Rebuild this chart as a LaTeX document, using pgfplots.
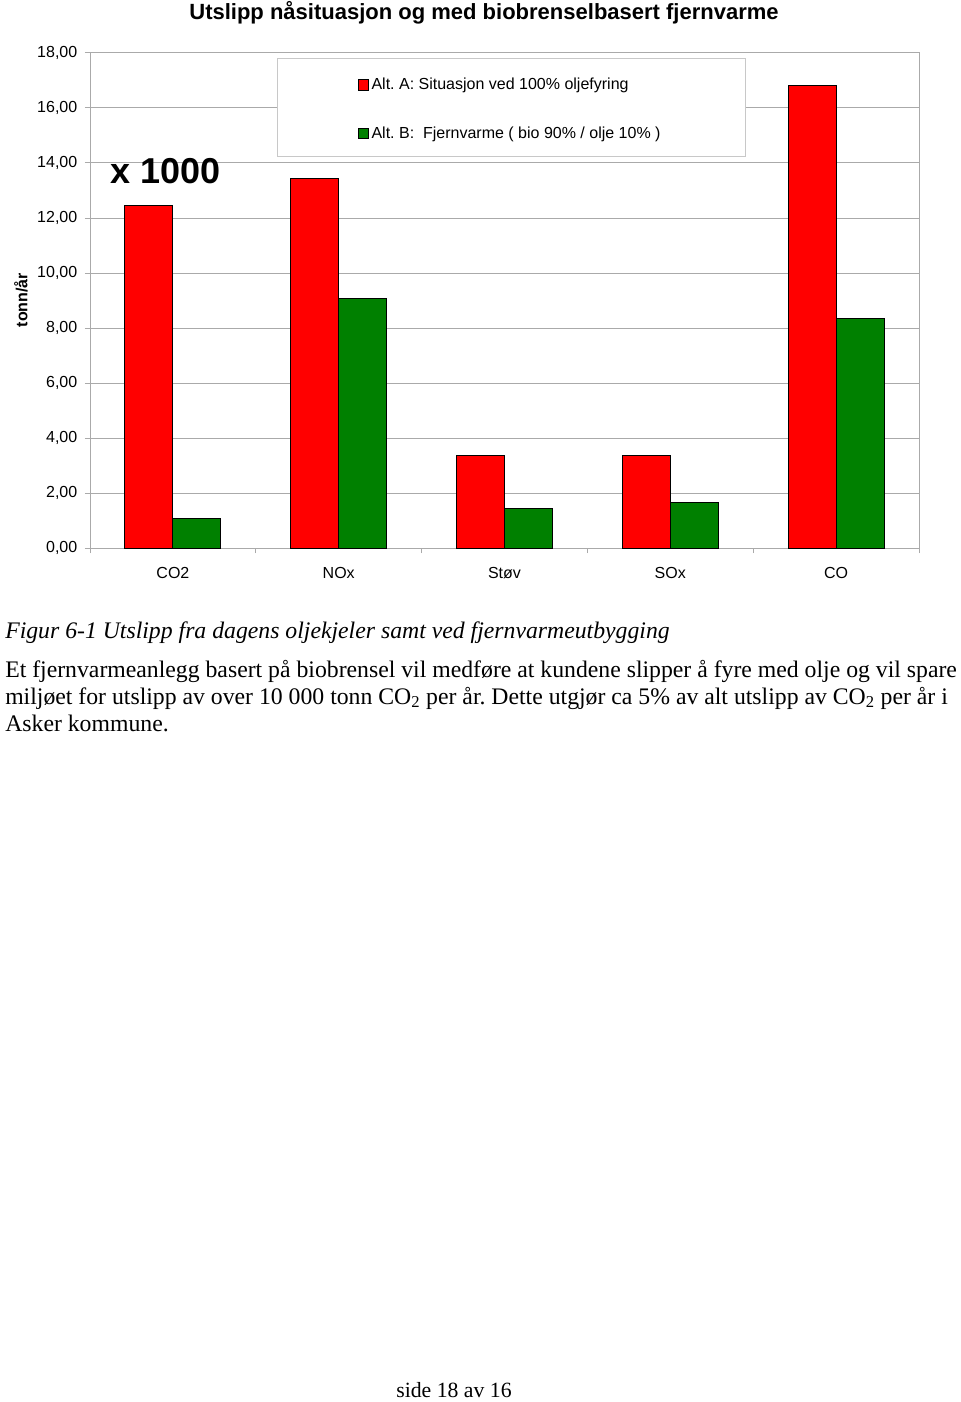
\documentclass[border=0pt]{standalone}
\usepackage{fontspec}
\setmainfont{Liberation Serif}
\newfontfamily\arial{Liberation Sans}
\usepackage{pgfplots}
\pgfplotsset{compat=1.18}
\frenchspacing
\definecolor{barred}{RGB}{255,0,0}
\definecolor{bargreen}{RGB}{0,128,0}
\definecolor{gridgray}{RGB}{170,170,170}
\definecolor{boxgray}{RGB}{200,200,200}
\pgfplotsset{legsq/.style={legend image code/.code={\draw[##1,draw=black,line width=0.5pt] (0pt,-4pt) rectangle (8pt,4pt);}}}
\begin{document}
\begin{tikzpicture}
\def\u{0.75pt}
\useasboundingbox (0,0) rectangle (960*\u,-1402*\u);
\fill[white] (0,0) rectangle (960*\u,-1402*\u);
\begin{axis}[
  at={(90*\u,-548*\u)}, anchor=south west,
  scale only axis, width=621.75pt, height=371.25pt,
  xmin=-0.5, xmax=4.5, ymin=0, ymax=18,
  ybar=0pt, bar width=36pt,
  xtick={0,1,2,3,4}, xticklabels={CO2,NOx,Støv,SOx,CO},
  major x tick style={draw=none},
  minor xtick={-0.5,0.5,1.5,2.5,3.5,4.5},
  ytick={0,2,...,18},
  ymajorgrids, grid style={gridgray, line width=0.75pt},
  axis line style={gridgray, line width=0.75pt},
  tick style={gridgray, line width=0.75pt},
  tick align=outside, tick pos=left,
  major tick length=3.75pt, minor tick length=3.75pt,
  yticklabel style={xshift=-2.25pt, /pgf/number format/fixed, /pgf/number format/fixed zerofill, /pgf/number format/precision=2, /pgf/number format/use comma},
  xticklabel style={yshift=-7.5pt},
  tick label style={font=\arial\fontsize{12}{14}\selectfont},
  /pgf/number format/assume math mode=true,
  legend cell align=left,
  legend style={draw=none, fill=none, at={(rel axis cs:0.3176,0.9602)}, anchor=north west,
     font=\arial\fontsize{12}{14}\selectfont, row sep=22pt, column sep=0pt},
]
\draw[boxgray, fill=white, line width=0.75pt] (rel axis cs:0.2256,0.7919) rectangle (rel axis cs:0.7901,0.9879);
\addplot[fill=barred, draw=black, line width=0.75pt, legsq] coordinates {(0,12.44) (1,13.42) (2,3.35) (3,3.35) (4,16.8)};
\addlegendentry{Alt. A: Situasjon ved 100\% oljefyring}
\addplot[fill=bargreen, draw=black, line width=0.75pt, legsq] coordinates {(0,1.09) (1,9.09) (2,1.45) (3,1.64) (4,8.33)};
\addlegendentry{Alt. B:\ \ Fjernvarme ( bio 90\% / olje 10\% )}
\end{axis}
\node[anchor=base, inner sep=0, font=\arial\bfseries\fontsize{16.5}{19}\selectfont] at (484*\u,-20*\u) {Utslipp nåsituasjon og med biobrenselbasert fjernvarme};
\node[rotate=90, inner sep=0, font=\arial\bfseries\fontsize{12}{14}\selectfont] at (21*\u,-300*\u) {tonn/år};
\node[inner sep=0, font=\arial\bfseries\fontsize{27}{30}\selectfont] at (166*\u,-171*\u) {x 1000};
\node[anchor=base west, inner sep=0, font=\fontsize{17.8}{20}\selectfont\itshape] at (5*\u,-638*\u) {Figur 6-1 Utslipp fra dagens oljekjeler samt ved fjernvarmeutbygging};
\node[anchor=base west, inner sep=0, font=\fontsize{17.8}{20}\selectfont] at (5*\u,-677*\u) {Et fjernvarmeanlegg basert på biobrensel vil medføre at kundene slipper å fyre med olje og vil spare};
\node[anchor=base west, inner sep=0, font=\fontsize{17.8}{20}\selectfont] at (5*\u,-704*\u) {miljøet for utslipp av over 10 000 tonn CO\textsubscript{2} per år. Dette utgjør ca 5\% av alt utslipp av CO\textsubscript{2} per år i};
\node[anchor=base west, inner sep=0, font=\fontsize{17.8}{20}\selectfont] at (5*\u,-731*\u) {Asker kommune.};
\node[anchor=base, inner sep=0, font=\fontsize{16.3}{19}\selectfont] at (454*\u,-1397*\u) {side 18 av 16};
\end{tikzpicture}
\end{document}
